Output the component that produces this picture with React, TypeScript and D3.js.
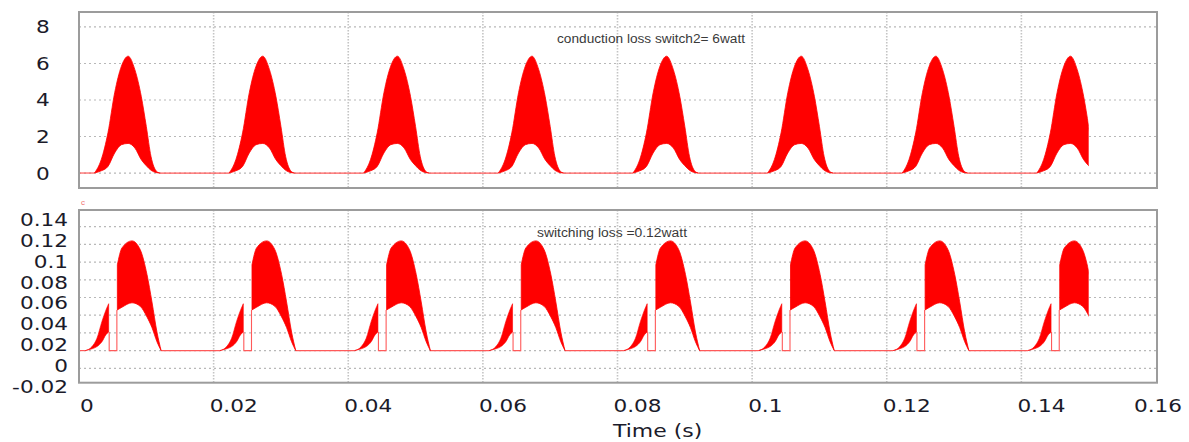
import React from "react";
import * as d3 from "d3";

// ---- data ----
const periodStarts = [0, 0.02, 0.04, 0.06, 0.08, 0.1, 0.12, 0.14];
const simEnd = 0.15;

// conduction loss pulse (offset within period in ms, upper / lower envelope in W)
const condOffsetMs = [2.3, 3.3, 4.3, 5.3, 6.3, 7.3, 8.3, 9.25, 10.0, 10.7, 11.5, 12.0];
const condUpper = [0, 0.73, 2.2, 4.4, 5.85, 6.4, 5.66, 4.2, 2.55, 0.9, 0.1, 0];
const condLower = [0, 0.12, 0.36, 1.1, 1.55, 1.62, 1.37, 0.73, 0.4, 0.15, 0.02, 0];

// switching loss pulse: small lobe + main lobe
const swSmallMs = [0.94, 1.93, 2.67, 3.41, 4.01, 4.41];
const swSmallUpper = [0, 0.0045, 0.014, 0.033, 0.046, 0.053];
const swSmallLower = [0, 0.002, 0.0045, 0.01, 0.018, 0.021];
const swMainMs = [5.7, 6.38, 7.87, 9.1, 10.1, 10.84, 11.58, 12.2];
const swMainUpper = [0.097, 0.116, 0.124, 0.114, 0.086, 0.055, 0.021, 0];
const swMainLower = [0.046, 0.049, 0.054, 0.05, 0.038, 0.026, 0.01, 0];

const xTicks = [0, 0.02, 0.04, 0.06, 0.08, 0.1, 0.12, 0.14, 0.16];
const xTickLabels = ["0", "0.02", "0.04", "0.06", "0.08", "0.1", "0.12", "0.14", "0.16"];
const topTicks = [0, 2, 4, 6, 8];
const topTickLabels = ["0", "2", "4", "6", "8"];
const botTicks = [-0.02, 0, 0.02, 0.04, 0.06, 0.08, 0.1, 0.12, 0.14];
const botTickLabels = ["-0.02", "0", "0.02", "0.04", "0.06", "0.08", "0.1", "0.12", "0.14"];

const xTitle = "Time (s)";
const topNote = "conduction loss switch2= 6watt";
const botNote = "switching loss =0.12watt";

type P = { t: number; u: number; l: number };

// zero-valued stretches between pulse events, given start / end offsets (ms)
function zeroSegments(startMs: number, endMs: number): [number, number][] {
  const segs: [number, number][] = [];
  let cur = 0;
  for (const p of periodStarts) {
    const s = p + startMs / 1000;
    if (s > cur && cur < simEnd) segs.push([cur, Math.min(s, simEnd)]);
    cur = p + endMs / 1000;
  }
  if (cur < simEnd) segs.push([cur, simEnd]);
  return segs;
}

export default function App() {
  const W = 1189, H = 442;
  const left = 79, right = 1156;
  const topY0 = 12, topY1 = 188;
  const botY0 = 210, botY1 = 382.7;

  const x = d3.scaleLinear().domain([0, 0.16]).range([left, right]);
  const yTop = d3.scaleLinear().domain([-0.82, 8.82]).range([topY1, topY0]);
  const yBot = d3.scaleLinear().domain([-0.0363, 0.1589]).range([botY1, botY0]);
  const yBotLabel = d3.scaleLinear().domain([-0.02, 0.14]).range([386.3, 219.7]);

  const mk = (ms: number[], up: number[], lo: number[], p: number): P[] =>
    ms.map((m, i) => ({ t: p + m / 1000, u: up[i], l: lo[i] }));

  const areaTop = d3.area<P>().x(d => x(d.t)).y0(d => yTop(d.l)).y1(d => yTop(d.u)).curve(d3.curveMonotoneX);
  const areaBot = d3.area<P>().x(d => x(d.t)).y0(d => yBot(d.l)).y1(d => yBot(d.u)).curve(d3.curveMonotoneX);

  const red = "#ff0000";
  const thin = "#ff5a5a";
  const font = "'DejaVu Sans', Verdana, sans-serif";
  const labelColor = "#1b1b2a";
  const sx = 1.2;

  const topZero = zeroSegments(condOffsetMs[0], condOffsetMs[condOffsetMs.length - 1]);
  const botZero = zeroSegments(swSmallMs[0], swMainMs[swMainMs.length - 1]);

  const gridH = (y: number, k: string) => (
    <line key={k} x1={left} x2={right} y1={y} y2={y} stroke="#b8b8b8" strokeWidth={1.2} strokeDasharray="2,3" />
  );
  const gridV = (xx: number, y0: number, y1: number, k: string) => (
    <line key={k} x1={xx} x2={xx} y1={y0} y2={y1} stroke="#c4c4c4" strokeWidth={1.6} strokeDasharray="1.5,1.5" />
  );

  return (
    <svg width={W} height={H} style={{ position: "absolute", left: 0, top: 0, background: "#fff" }}>
      <defs>
        <clipPath id="simclip">
          <rect x={left} y={0} width={x(simEnd) - left} height={H} />
        </clipPath>
      </defs>

      {/* grids */}
      {topTicks.map((v, i) => gridH(yTop(v), "th" + i))}
      {botTicks.map((v, i) => gridH(yBot(v), "bh" + i))}
      {xTicks.slice(1, -1).map((v, i) => gridV(x(v), topY0, topY1, "tv" + i))}
      {xTicks.slice(1, -1).map((v, i) => gridV(x(v), botY0, botY1, "bv" + i))}

      {/* top panel signal */}
      <g clipPath="url(#simclip)">
        {topZero.map(([a, b], i) => (
          <line key={"tz" + i} x1={x(a)} x2={x(b)} y1={yTop(0)} y2={yTop(0)} stroke={thin} strokeWidth={1.2} />
        ))}
        {periodStarts.map((p, i) => (
          <path key={"c" + i} d={areaTop(mk(condOffsetMs, condUpper, condLower, p)) || ""} fill={red} stroke={red} strokeWidth={0.8} />
        ))}
      </g>

      {/* bottom panel signal */}
      <g clipPath="url(#simclip)">
        {botZero.map(([a, b], i) => (
          <line key={"bz" + i} x1={x(a)} x2={x(b)} y1={yBot(0)} y2={yBot(0)} stroke={thin} strokeWidth={1.2} />
        ))}
        {periodStarts.map((p, i) => {
          const tEndSmall = p + swSmallMs[swSmallMs.length - 1] / 1000;
          const tStartMain = p + swMainMs[0] / 1000;
          const x1 = x(tEndSmall) + 0.5, x2 = x(tStartMain) - 0.5;
          const notch = `M${x1},${yBot(swSmallLower[swSmallLower.length - 1])}V${yBot(0)}H${x2}V${yBot(swMainLower[0])}`;
          return (
            <g key={"s" + i}>
              <path d={notch} fill="none" stroke={thin} strokeWidth={1.1} />
              <path d={areaBot(mk(swSmallMs, swSmallUpper, swSmallLower, p)) || ""} fill={red} stroke={red} strokeWidth={0.6} />
              <path d={areaBot(mk(swMainMs, swMainUpper, swMainLower, p)) || ""} fill={red} stroke={red} strokeWidth={0.8} />
            </g>
          );
        })}
      </g>

      {/* frames */}
      <rect x={left} y={topY0} width={right - left + 1} height={topY1 - topY0} fill="none" stroke="#9c9c9c" strokeWidth={2} />
      <rect x={left} y={botY0} width={right - left + 1} height={botY1 - botY0} fill="none" stroke="#9c9c9c" strokeWidth={2} />

      {/* annotations */}
      <text x={557} y={43} fontFamily="'Liberation Sans', Arial, sans-serif" fontSize={12} fill="#3a3a3a" textLength={188} lengthAdjust="spacingAndGlyphs">{topNote}</text>
      <text x={537} y={237} fontFamily="'Liberation Sans', Arial, sans-serif" fontSize={12} fill="#3a3a3a" textLength={150} lengthAdjust="spacingAndGlyphs">{botNote}</text>
      <text x={81} y={205} fontFamily="'Liberation Sans', Arial, sans-serif" fontSize={8} fill="#f07070">c</text>

      {/* top y labels */}
      {topTicks.map((v, i) => (
        <text key={"tl" + i} transform={`translate(43,${yTop(v)}) scale(${sx},1)`} dy="0.36em" textAnchor="middle" fontFamily={font} fontSize={18} fill={labelColor}>{topTickLabels[i]}</text>
      ))}
      {/* bottom y labels */}
      {botTicks.map((v, i) => (
        <text key={"bl" + i} transform={`translate(68,${yBotLabel(v)}) scale(${sx},1)`} dy="0.36em" textAnchor="end" fontFamily={font} fontSize={18} fill={labelColor}>{botTickLabels[i]}</text>
      ))}
      {/* x labels */}
      {xTicks.map((v, i) => {
        const last = i === xTicks.length - 1;
        const px = last ? 1182 : Math.max(x(v) - 4, left + 1);
        return (
          <text key={"xl" + i} transform={`translate(${px},412) scale(${sx},1)`} textAnchor={last ? "end" : "start"} fontFamily={font} fontSize={18} fill={labelColor}>{xTickLabels[i]}</text>
        );
      })}
      <text transform={`translate(613,437) scale(1.22,1)`} textAnchor="start" fontFamily={font} fontSize={18} fill={labelColor}>{xTitle}</text>
    </svg>
  );
}
